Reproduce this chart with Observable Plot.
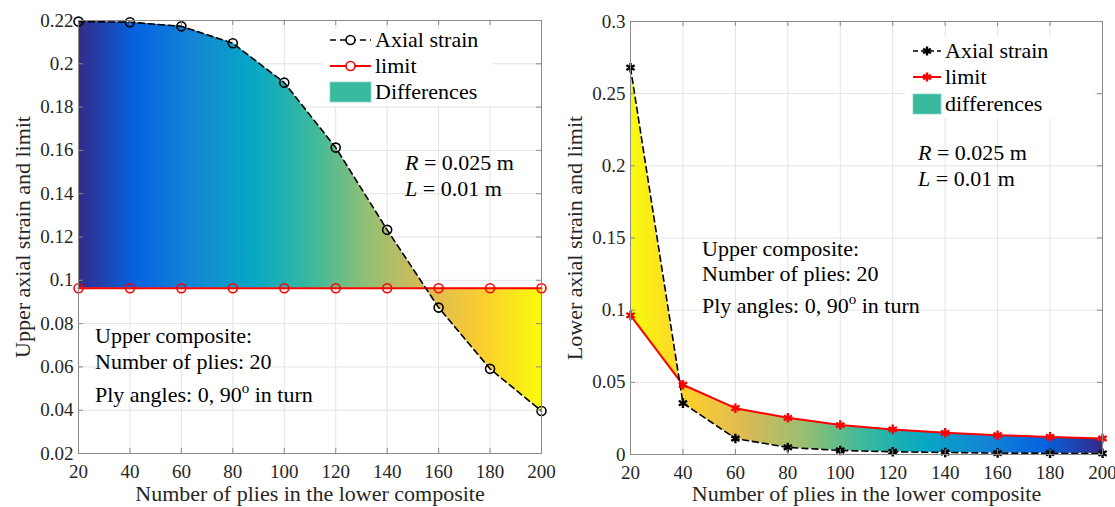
<!DOCTYPE html>
<html>
<head>
<meta charset="utf-8">
<script src="https://cdn.jsdelivr.net/npm/d3@7"></script>
<script src="https://cdn.jsdelivr.net/npm/@observablehq/plot@0.6"></script>
<style>
  html, body { margin: 0; padding: 0; background: #fff; }
  #wrap { display: flex; flex-direction: row; width: 1115px; height: 507px; }
  svg text { font-family: "Liberation Serif", "Times New Roman", serif; }
</style>
</head>
<body>
<div id="wrap"></div>
<script>
// ---------- data ----------
const plies = [20, 40, 60, 80, 100, 120, 140, 160, 180, 200];

const upperStrain = [0.2195, 0.2192, 0.2173, 0.2095, 0.1913, 0.1613, 0.1233, 0.0874, 0.0591, 0.0396];
const upperLimit  = [0.0963, 0.0963, 0.0963, 0.0963, 0.0963, 0.0963, 0.0963, 0.0963, 0.0963, 0.0963];

const lowerStrain = [0.268, 0.0356, 0.0111, 0.0049, 0.0028, 0.0019, 0.0014, 0.0010, 0.0009, 0.0008];
const lowerLimit  = [0.0964, 0.0483, 0.0321, 0.0254, 0.0204, 0.0174, 0.0150, 0.0134, 0.0122, 0.0111];

const xTicks = [20, 40, 60, 80, 100, 120, 140, 160, 180, 200];
const upperYTicks = [0.02, 0.04, 0.06, 0.08, 0.1, 0.12, 0.14, 0.16, 0.18, 0.2, 0.22];
const lowerYTicks = [0, 0.05, 0.1, 0.15, 0.2, 0.25, 0.3];

const xTitle = "Number of plies in the lower composite";
const upperYTitle = "Upper axial strain and limit";
const lowerYTitle = "Lower axial strain and limit";
const legendLabels = ["Axial strain", "limit"];

// parula colormap stops (style)
const parula = ["#352a87", "#0363e1", "#1485d4", "#06a7c6", "#38b99e", "#92bf73", "#d9ba56", "#fcce2e", "#f9fb0e"];

const FONT = "Liberation Serif";
const TEXT = "#262626";
const AXIS = "#8a8a8a";
const GRID = "#e3e3e3";

function panel(cfg) {
  const data = plies.map((p, i) => ({p, strain: cfg.strain[i], limit: cfg.limit[i]}));
  const innerW = cfg.width - cfg.ml - cfg.mr;
  const innerH = cfg.height - cfg.mt - cfg.mb;
  const tk = 5;
  const circ = cfg.symbol === "circle";
  const strainDot = circ
    ? {symbol: "circle", r: 4.5, stroke: "#000", fill: "none", strokeWidth: 1.6}
    : {symbol: "asterisk", r: 4.5, stroke: "#000", fill: "none", strokeWidth: 2.4};
  const limitDot = circ
    ? {symbol: "circle", r: 4.5, stroke: "#ff0000", fill: "none", strokeWidth: 1.6}
    : {symbol: "asterisk", r: 4.5, stroke: "#ff0000", fill: "none", strokeWidth: 2.4};

  const svg = Plot.plot({
    width: cfg.width, height: cfg.height,
    marginLeft: cfg.ml, marginRight: cfg.mr, marginTop: cfg.mt, marginBottom: cfg.mb,
    style: {fontFamily: FONT, fontSize: "19px", color: TEXT, background: "#fff", overflow: "visible"},
    x: {domain: [20, 200]},
    y: {domain: cfg.yDomain},
    marks: [
      Plot.gridX(xTicks, {stroke: GRID, strokeOpacity: 1}),
      Plot.gridY(cfg.yTicks, {stroke: GRID, strokeOpacity: 1}),
      Plot.areaY(data, {x: "p", y1: "limit", y2: "strain", fill: `url(#${cfg.gradId})`, curve: "linear"}),
      Plot.line(data, {x: "p", y: "limit", stroke: "#ff0000", strokeWidth: 2}),
      Plot.line(data, {x: "p", y: "strain", stroke: "#000", strokeWidth: 1.6, strokeDasharray: "6,4"}),
      Plot.dot(data, {x: "p", y: "limit", ...limitDot}),
      Plot.dot(data, {x: "p", y: "strain", ...strainDot}),
      Plot.frame({stroke: AXIS, strokeWidth: 1}),
      // inward ticks (MATLAB style box)
      Plot.tickX(xTicks, {x: d => d, stroke: AXIS, insetTop: innerH - tk}),
      Plot.tickX(xTicks, {x: d => d, stroke: AXIS, insetBottom: innerH - tk}),
      Plot.tickY(cfg.yTicks, {y: d => d, stroke: AXIS, insetRight: innerW - tk}),
      Plot.tickY(cfg.yTicks, {y: d => d, stroke: AXIS, insetLeft: innerW - tk}),
      Plot.axisX(xTicks, {tickSize: 0, tickPadding: 11, tickFormat: d => String(d), fill: TEXT, label: null}),
      Plot.axisY(cfg.yTicks, {tickSize: 0, tickPadding: 5, tickFormat: d => String(d), fill: TEXT, label: null}),
      Plot.text([xTitle], {frameAnchor: "bottom", text: d => d, dy: cfg.xTitleDy, fontSize: 22, fill: TEXT,
        textAnchor: "middle", lineAnchor: "middle"}),
      Plot.text([cfg.yTitle], {frameAnchor: "left", text: d => d, rotate: -90, dx: cfg.yTitleDx, fontSize: 22, fill: TEXT,
        textAnchor: "middle", lineAnchor: "middle"})
    ]
  });

  const s = d3.select(svg);
  // gradient
  const grad = s.insert("defs", ":first-child").append("linearGradient")
    .attr("id", cfg.gradId).attr("x1", 0).attr("x2", 1).attr("y1", 0).attr("y2", 0);
  const stops = cfg.reverse ? parula.slice().reverse() : parula;
  stops.forEach((c, i) => grad.append("stop").attr("offset", i / (stops.length - 1)).attr("stop-color", c));

  // legend
  const L = cfg.legend;
  const g = s.append("g").attr("font-family", FONT).attr("font-size", 22).attr("fill", "#000").attr("text-anchor", "start");
  g.append("rect").attr("x", L.box[0]).attr("y", L.box[1]).attr("width", L.box[2]).attr("height", L.box[3]).attr("fill", "#fff");
  const mid = (L.x0 + L.x1) / 2;
  const sym = d3.symbol().type(circ ? d3.symbolCircle : d3.symbolAsterisk).size(circ ? 64 : 56);
  // row 1: axial strain
  g.append("line").attr("x1", L.x0).attr("x2", L.x1).attr("y1", L.rows[0]).attr("y2", L.rows[0])
    .attr("stroke", "#000").attr("stroke-width", 1.6).attr("stroke-dasharray", circ ? "6,4" : "5,3");
  g.append("path").attr("d", sym()).attr("transform", `translate(${mid},${L.rows[0]})`)
    .attr("fill", circ ? "#fff" : "none").attr("stroke", "#000").attr("stroke-width", circ ? 1.6 : 2.4);
  g.append("text").attr("x", L.tx).attr("y", L.rows[0] + 7).text(legendLabels[0]);
  // row 2: limit
  g.append("line").attr("x1", L.x0).attr("x2", L.x1).attr("y1", L.rows[1]).attr("y2", L.rows[1])
    .attr("stroke", "#ff0000").attr("stroke-width", 2);
  g.append("path").attr("d", sym()).attr("transform", `translate(${mid},${L.rows[1]})`)
    .attr("fill", circ ? "#fff" : "none").attr("stroke", "#ff0000").attr("stroke-width", circ ? 1.6 : 2.4);
  g.append("text").attr("x", L.tx).attr("y", L.rows[1] + 7).text(legendLabels[1]);
  // row 3: differences patch
  g.append("rect").attr("x", L.x0).attr("y", L.rows[2] - 10).attr("width", L.x1 - L.x0).attr("height", 20)
    .attr("fill", "#38b99e").attr("stroke", "#7fd4c0").attr("stroke-width", 0.8);
  g.append("text").attr("x", L.tx).attr("y", L.rows[2] + 7).text(cfg.diffLabel);

  // annotations
  const a = s.append("g").attr("font-family", FONT).attr("font-size", 22).attr("fill", "#000").attr("text-anchor", "start");
  const t1 = a.append("text").attr("x", cfg.rl[0]).attr("y", cfg.rl[1]);
  t1.append("tspan").attr("font-style", "italic").text("R");
  t1.append("tspan").text(" = 0.025 m");
  const t2 = a.append("text").attr("x", cfg.rl[0]).attr("y", cfg.rl[2]);
  t2.append("tspan").attr("font-style", "italic").text("L");
  t2.append("tspan").text(" = 0.01 m");
  a.append("text").attr("x", cfg.up[0]).attr("y", cfg.up[1]).text("Upper composite:");
  a.append("text").attr("x", cfg.up[0]).attr("y", cfg.up[2]).text("Number of plies: 20");
  const t3 = a.append("text").attr("x", cfg.up[0]).attr("y", cfg.up[3]);
  t3.append("tspan").text("Ply angles: 0, 90");
  t3.append("tspan").attr("dy", -9).attr("font-size", 15).text("o");
  t3.append("tspan").attr("dy", 9).text(" in turn");
  return svg;
}

const wrap = document.getElementById("wrap");
wrap.appendChild(panel({
  width: 560, height: 507, ml: 78, mr: 19, mt: 20, mb: 54,
  strain: upperStrain, limit: upperLimit, yDomain: [0.02, 0.22], yTicks: upperYTicks,
  yTitle: upperYTitle, xTitleDy: 40, yTitleDx: -56,
  gradId: "gradL", reverse: false, symbol: "circle", diffLabel: "Differences",
  legend: {box: [322, 29, 170, 77], x0: 330, x1: 371, tx: 375, rows: [40, 66, 92]},
  rl: [405, 170, 196], up: [95, 343, 369, 402]
}));
wrap.appendChild(panel({
  width: 555, height: 507, ml: 70, mr: 13, mt: 21, mb: 53,
  strain: lowerStrain, limit: lowerLimit, yDomain: [0, 0.3], yTicks: lowerYTicks,
  yTitle: lowerYTitle, xTitleDy: 39, yTitleDx: -56,
  gradId: "gradR", reverse: true, symbol: "asterisk", diffLabel: "differences",
  legend: {box: [345, 37, 190, 81], x0: 353, x1: 381, tx: 385, rows: [51, 77, 104]},
  rl: [358, 160, 186], up: [142, 256, 281, 313]
}));
</script>
</body>
</html>
